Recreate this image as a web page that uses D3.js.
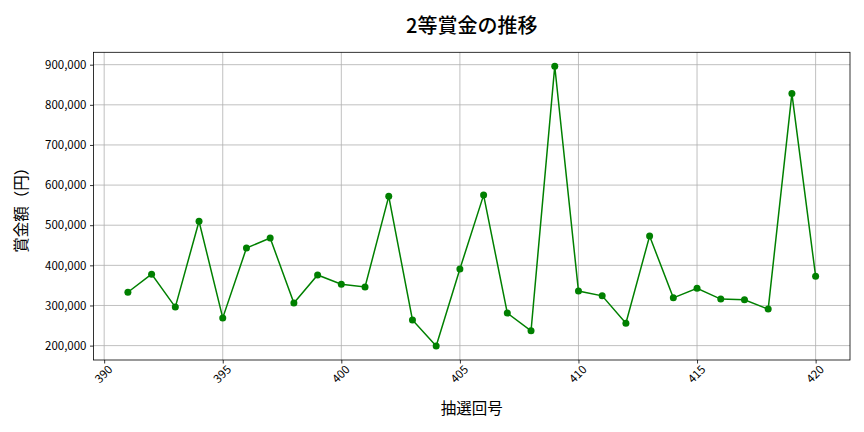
<!DOCTYPE html>
<head>
<meta charset="utf-8">
<style>
    body { margin: 0; background: #fff; }
    text { font-family: "Noto Sans CJK JP", "Noto Sans", sans-serif; }
    .grid line { stroke: #b0b0b0; stroke-width: 0.8; }
</style>
</head>
<body>
    <script src="https://d3js.org/d3.v7.min.js"></script>
    <script>

    // data
    const rounds = d3.range(391, 421);
    const prizes = [333000, 378000, 296000, 510000, 269000, 443000, 468000, 306000, 376000, 353000,
                    346000, 572000, 264000, 199000, 391000, 575000, 281000, 237000, 896000, 336000,
                    324000, 256000, 473000, 319000, 343000, 316000, 314000, 291000, 828000, 373000];
    const xTicks = [390, 395, 400, 405, 410, 415, 420];
    const yTicks = [200000, 300000, 400000, 500000, 600000, 700000, 800000, 900000];

    const W = 864, H = 432;
    const margin = { top: 52.3, right: 14, bottom: 72, left: 93.5 };
    const width = W - margin.left - margin.right;
    const height = H - margin.top - margin.bottom;

    const svg = d3.select('body').append('svg')
        .attr('width', W).attr('height', H);
    const base = svg.append('g')
        .attr('transform', 'translate(' + margin.left + ',' + margin.top + ')');

    // matplotlib-style 5% padding
    const xPad = (d3.max(rounds) - d3.min(rounds)) * 0.05;
    const yPad = (d3.max(prizes) - d3.min(prizes)) * 0.05;
    const x = d3.scaleLinear()
        .domain([d3.min(rounds) - xPad, d3.max(rounds) + xPad]).range([0, width]);
    const y = d3.scaleLinear()
        .domain([d3.min(prizes) - yPad, d3.max(prizes) + yPad]).range([height, 0]);

    // grid
    base.append('g').attr('class', 'grid')
        .selectAll('line').data(xTicks).enter().append('line')
        .attr('x1', d => x(d)).attr('x2', d => x(d))
        .attr('y1', 0).attr('y2', height);
    base.append('g').attr('class', 'grid')
        .selectAll('line').data(yTicks).enter().append('line')
        .attr('y1', d => y(d)).attr('y2', d => y(d))
        .attr('x1', 0).attr('x2', width);

    // axes
    const xAxis = base.append('g')
        .attr('transform', 'translate(0,' + height + ')')
        .call(d3.axisBottom(x).tickValues(xTicks).tickSize(3.5).tickPadding(3));
    xAxis.selectAll('text')
        .attr('font-size', 11.5).attr('fill', '#000')
        .attr('text-anchor', 'end')
        .attr('dx', '-0.1em').attr('dy', '0.6em')
        .attr('transform', 'rotate(-45)');

    const yAxis = base.append('g')
        .call(d3.axisLeft(y).tickValues(yTicks).tickSize(3.5).tickPadding(3.5)
            .tickFormat(d3.format(',')));
    yAxis.selectAll('text').attr('font-size', 11.5).attr('fill', '#000');

    [xAxis, yAxis].forEach(a => {
        a.select('.domain').remove();
        a.selectAll('line').attr('stroke', '#000').attr('stroke-width', 0.8);
    });

    base.append('rect')
        .attr('width', width).attr('height', height)
        .attr('fill', 'none').attr('stroke', '#000').attr('stroke-width', 0.8);

    // line + points
    const line = d3.line().x((d, i) => x(rounds[i])).y(d => y(d));
    base.append('path').datum(prizes)
        .attr('d', line).attr('fill', 'none')
        .attr('stroke', 'green').attr('stroke-width', 1.5);
    base.selectAll('circle').data(prizes).enter().append('circle')
        .attr('cx', (d, i) => x(rounds[i])).attr('cy', d => y(d))
        .attr('r', 3.5).attr('fill', 'green');

    // labels
    svg.append('text')
        .attr('x', margin.left + width / 2).attr('y', 33)
        .attr('text-anchor', 'middle').attr('font-size', 20).attr('font-weight', 500)
        .text('2等賞金の推移');
    svg.append('text')
        .attr('x', margin.left + width / 2).attr('y', 414)
        .attr('text-anchor', 'middle').attr('font-size', 15.5)
        .text('抽選回号');
    svg.append('text')
        .attr('transform', 'translate(27,' + (margin.top + height / 2) + ') rotate(-90)')
        .attr('text-anchor', 'middle').attr('font-size', 15.5)
        .text('賞金額（円）');

    </script>
</body>
